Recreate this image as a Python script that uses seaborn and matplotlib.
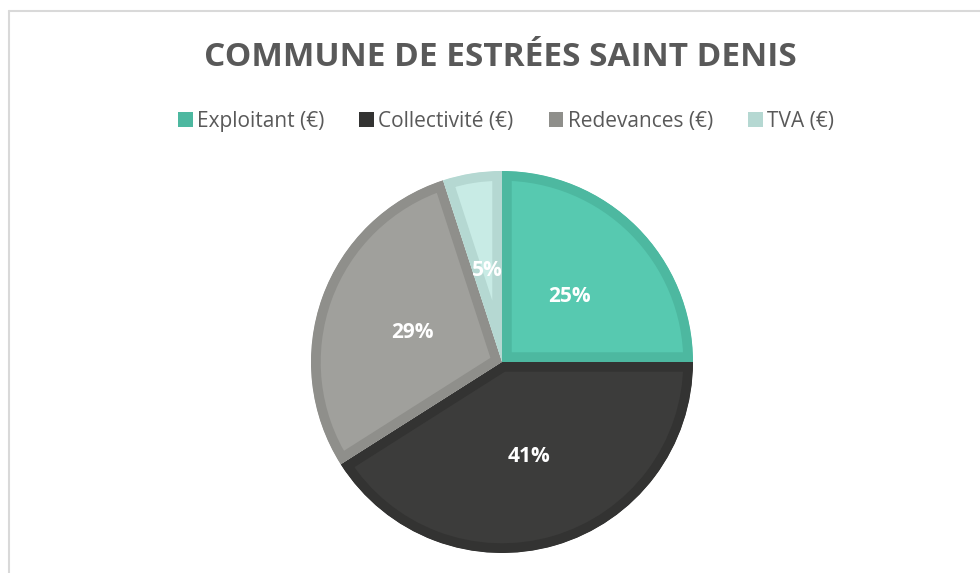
import matplotlib
matplotlib.use('Agg')
import matplotlib.pyplot as plt
import seaborn as sns
from matplotlib.patches import Patch
from matplotlib.lines import Line2D

sns.set_style('white')
plt.rcParams['font.family'] = ['Open Sans', 'DejaVu Sans']

# --- data ---
categories = ['Exploitant (€)', 'Collectivité (€)', 'Redevances (€)', 'TVA (€)']
shares = [25, 41, 29, 5]
fill_colors = ['#57C9B0', '#3C3C3B', '#A0A09C', '#C8EBE5']
edge_colors = ['#4DB8A0', '#333332', '#8F8F8B', '#B5D8D2']

fig = plt.figure(figsize=(9.8, 5.73), dpi=100)
W, H = 980, 573
cx, cy, r = 502, 362, 191
ax = fig.add_axes([(cx - r) / W, (H - cy - r) / H, 2 * r / W, 2 * r / H])

wedges, texts, autotexts = ax.pie(
    shares, colors=fill_colors, startangle=90, counterclock=False,
    autopct='%1.0f%%', pctdistance=0.5,
    textprops=dict(color='white', fontsize=15, fontweight='bold'),
)
for t in autotexts:
    t.set_va('center_baseline')
# darker inner border, clipped to each wedge (Excel style)
for w, ec in zip(wedges, edge_colors):
    w.set_edgecolor(ec)
    w.set_linewidth(14)
    w.set_clip_on(True)
    w.set_clip_path(w)
ax.set_xlim(-1, 1)
ax.set_ylim(-1, 1)
ax.set_aspect('equal')

# title
fig.text(500 / W, 1 - 57 / H, 'COMMUNE DE ESTRÉES SAINT DENIS', ha='center', va='center',
         fontsize=24, fontweight='bold', color='#595959')

# legend
handles = [Patch(facecolor=c, edgecolor='none') for c in edge_colors]
fig.legend(handles, categories, loc='center', bbox_to_anchor=(506 / W, 1 - 121 / H), ncol=4,
           frameon=False, fontsize=15, handlelength=0.7, handleheight=0.7,
           handletextpad=0.2, columnspacing=1.7, labelcolor='#595959')

# chart-area frame (cropped on right and bottom)
fig.add_artist(Line2D([9 / W, 9 / W], [0, 1 - 11 / H], color='#D9D9D9', lw=1.5))
fig.add_artist(Line2D([9 / W, 1], [1 - 11 / H, 1 - 11 / H], color='#D9D9D9', lw=1.5))

fig.savefig('out.png', dpi=100)
